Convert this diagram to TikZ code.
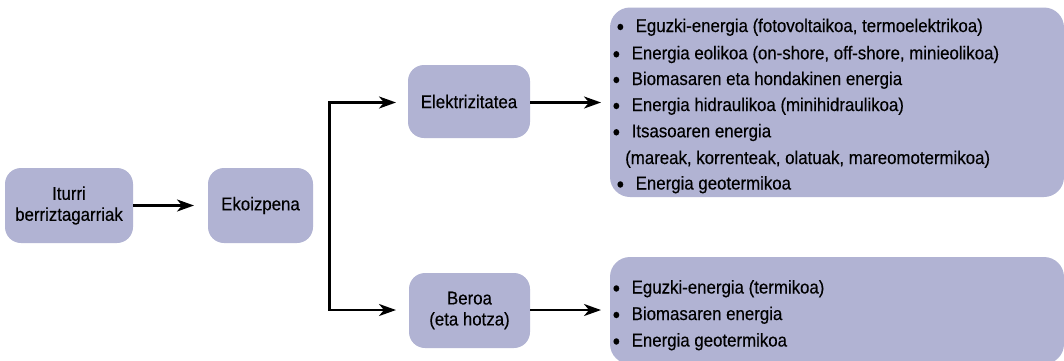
\documentclass[tikz,border=0pt]{standalone}
\usepackage{fontspec}
\setmainfont[FakeStretch=0.91,FakeBold=0.3]{Liberation Sans}
\usetikzlibrary{arrows.meta}
\definecolor{boxfill}{RGB}{177,179,211}
% list bullet with a fixed gap before the text
\newcommand\blt{\makebox[19pt][l]{\raisebox{-2.6pt}{\fontsize{23}{0}\selectfont\textbullet}}}
\begin{document}
\begin{tikzpicture}[x=1pt,y=-1pt,
  box/.style={fill=boxfill,rounded corners=16pt,inner sep=0pt,align=center,
    font=\fontsize{18.5}{21}\selectfont},
  listbox/.style={fill=boxfill,rounded corners=20pt},
  item/.style={anchor=base west,inner sep=0pt,font=\fontsize{18.5}{21}\selectfont},
  flow/.style={line width=2.4pt,-{Stealth[length=17pt,width=12pt,inset=5pt]}}]
\useasboundingbox (0,0) rectangle (1064,360);

% main stages
\node[box,minimum width=128pt,minimum height=75pt] (src) at (69,205.5) {Iturri\\berriztagarriak};
\node[box,minimum width=105pt,minimum height=75pt] (prod) at (260.5,205.5) {Ekoizpena};
\node[box,minimum width=122pt,minimum height=73pt] (elec) at (469,101.5) {Elektrizitatea};
\node[box,minimum width=121pt,minimum height=75pt] (heat) at (469.5,310.5) {Beroa\\(eta hotza)};

% lists of sources
\fill[listbox] (610,7.5) rectangle (1064,197);
\fill[listbox] (610,257) rectangle (1064,364);

\node[item] (e1) at (616.5,32) {\blt Eguzki-energia (fotovoltaikoa, termoelektrikoa)};
\node[item] (e2) at (612.5,59.3) {\blt Energia eolikoa (on-shore, off-shore, minieolikoa)};
\node[item] (e3) at (612.5,85) {\blt Biomasaren eta hondakinen energia};
\node[item] (e4) at (612.5,111) {\blt Energia hidraulikoa (minihidraulikoa)};
\node[item] (e5) at (612.5,137.3) {\blt Itsasoaren energia};
\node[item] (e6) at (625,164) {(mareak, korrenteak, olatuak, mareomotermikoa)};
\node[item] (e7) at (616.5,189.5) {\blt Energia geotermikoa};

\node[item] (h1) at (612.5,293.5) {\blt Eguzki-energia (termikoa)};
\node[item] (h2) at (612.5,320) {\blt Biomasaren energia};
\node[item] (h3) at (612.5,346.5) {\blt Energia geotermikoa};

% connectors
\coordinate (split) at (329.5,205.5);
\coordinate (elecin) at (396,102.5);
\coordinate (heatin) at (396,310);
\draw[flow] (src.east) -- (194,205.5);
\draw[line width=2.4pt] (split |- elecin) -- (split |- heatin);
\draw[flow] ([xshift=-1.2pt]split |- elecin) -- (elecin);
\draw[flow] ([xshift=-1.2pt]split |- heatin) -- (heatin);
\draw[flow] (elec.east |- elecin) -- (601,102.5);
\draw[flow] (heat.east |- heatin) -- (601,310);
\end{tikzpicture}
\end{document}
